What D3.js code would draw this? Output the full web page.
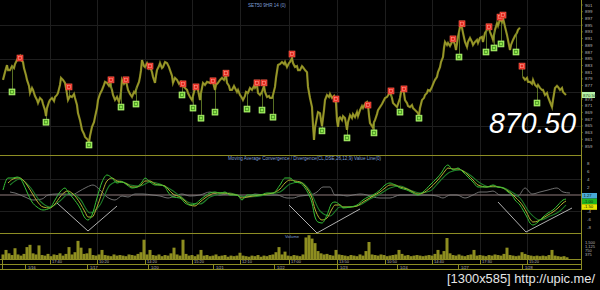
<!DOCTYPE html>
<html>
<head>
<meta charset="utf-8">
<script src="https://cdn.jsdelivr.net/npm/d3@7"></script>
<style>
body { margin: 0; background: #000; }
text { font-family: "Liberation Sans", Arial, sans-serif; }
</style>
</head>
<body>
<script>

// ---- data (bar index, value) ----
var priceSeries = [
[3,878.7],[5,881.0],[7,883.1],[8,881.6],[10,881.6],[12,882.8],[14,882.2],[15,883.4],[17,884.6],[18,885.2],[20,885.8],[21,884.6],[23,884.0],[24,882.2],[26,880.1],[27,878.7],[29,876.9],[30,874.8],[32,876.3],[33,875.7],[35,873.9],[37,872.7],[38,871.8],[40,873.3],[42,872.7],[43,871.5],[45,869.7],[46,867.9],[47,870.3],[49,872.1],[50,872.7],[52,873.3],[54,872.4],[55,873.6],[57,874.2],[58,874.8],[60,877.2],[61,879.3],[63,878.7],[65,877.8],[66,876.3],[68,872.7],[70,873.9],[72,873.6],[74,874.5],[75,873.3],[77,871.2],[78,868.8],[80,866.7],[82,863.8],[84,862.6],[85,861.7],[87,861.1],[88,860.8],[89,859.9],[90,862.0],[92,864.7],[94,866.1],[95,867.6],[97,870.3],[98,872.7],[100,874.5],[102,875.7],[104,877.2],[105,878.1],[107,877.8],[109,876.9],[110,877.5],[112,875.7],[113,874.2],[115,872.7],[117,873.6],[119,872.1],[120,873.3],[121,875.1],[122,878.7],[124,877.5],[126,878.4],[128,875.7],[130,874.5],[132,873.6],[134,875.1],[135,874.8],[137,876.6],[139,878.1],[140,879.6],[141,881.6],[142,884.6],[144,882.8],[145,882.5],[147,883.7],[149,882.2],[150,882.8],[152,881.0],[153,879.6],[155,877.8],[156,879.9],[157,881.6],[159,882.8],[160,883.7],[162,882.2],[163,882.5],[165,884.0],[167,883.7],[169,882.5],[170,881.6],[172,879.9],[173,877.8],[175,879.3],[177,878.7],[179,877.5],[181,878.1],[183,876.9],[185,876.3],[187,875.7],[188,874.8],[190,873.6],[192,872.7],[193,873.9],[195,876.3],[197,876.9],[198,875.7],[200,872.7],[201,874.8],[203,877.8],[205,877.2],[207,878.1],[210,877.8],[212,878.7],[213,878.1],[215,875.7],[216,877.2],[218,877.8],[220,878.7],[222,879.3],[224,878.7],[226,880.1],[227,877.8],[229,876.9],[230,875.7],[232,875.7],[234,876.9],[235,876.3],[237,875.1],[238,875.7],[240,874.2],[242,873.3],[243,872.7],[245,873.9],[246,875.1],[248,874.8],[250,876.3],[252,875.7],[254,876.9],[255,876.3],[257,877.2],[258,874.8],[260,874.2],[262,875.1],[264,876.9],[265,875.1],[267,873.6],[269,873.9],[270,873.3],[272,873.3],[273,874.2],[275,876.6],[276,879.3],[278,883.1],[280,883.4],[282,884.0],[284,883.4],[285,884.0],[287,882.5],[289,883.7],[290,884.0],[292,885.2],[293,883.7],[295,882.5],[297,882.8],[298,881.6],[300,881.6],[302,882.8],[303,882.5],[305,881.6],[307,881.0],[308,876.6],[310,873.3],[312,870.6],[313,865.2],[314,860.8],[315,864.4],[317,867.6],[318,869.1],[320,868.8],[321,866.7],[322,864.9],[324,869.7],[325,872.7],[327,874.2],[329,873.6],[330,874.5],[332,873.3],[334,873.9],[335,872.7],[336,871.8],[337,866.7],[338,864.7],[339,867.3],[340,867.6],[342,866.7],[343,867.9],[345,867.3],[346,865.5],[347,863.8],[348,866.1],[350,868.2],[352,867.3],[353,868.5],[355,867.6],[357,869.1],[358,867.9],[360,869.7],[362,870.9],[363,870.3],[365,871.5],[367,872.1],[368,871.2],[369,868.2],[370,865.8],[372,864.9],[373,864.4],[374,866.1],[375,866.7],[377,868.5],[378,869.7],[380,870.6],[382,871.5],[383,872.1],[385,873.3],[387,873.6],[389,874.5],[390,875.1],[392,873.3],[393,871.8],[395,871.2],[397,870.6],[398,871.5],[400,873.3],[401,875.1],[403,875.7],[404,874.8],[405,872.7],[407,871.8],[408,870.9],[410,870.6],[412,871.2],[413,870.3],[415,869.7],[417,869.1],[418,868.8],[419,867.9],[420,870.3],[422,872.7],[424,873.3],[425,874.2],[427,874.8],[428,875.7],[430,875.4],[432,876.6],[434,878.1],[435,878.7],[437,879.6],[438,881.0],[440,882.5],[441,884.0],[443,885.5],[444,888.2],[445,890.0],[447,889.1],[448,889.7],[450,888.8],[452,890.0],[453,890.6],[455,889.1],[456,887.6],[458,891.5],[459,893.0],[460,894.5],[462,894.2],[463,892.7],[465,890.0],[467,888.5],[468,890.0],[470,891.2],[472,890.0],[473,889.1],[475,890.0],[477,890.6],[478,889.7],[480,891.2],[482,891.5],[483,890.0],[485,892.7],[487,893.6],[489,894.2],[490,893.0],[492,891.5],[493,890.6],[495,893.6],[497,895.6],[498,894.8],[500,896.8],[502,895.9],[503,897.1],[505,894.5],[507,892.1],[508,890.6],[510,887.6],[511,889.1],[513,890.6],[515,891.8],[517,892.7],[518,893.6],[520,894.2],[521,null],
[523,879.6],[525,878.7],[527,879.3],[528,878.1],[530,878.1],[532,877.5],[533,878.7],[535,877.2],[537,876.6],[538,877.2],[540,876.3],[542,875.7],[543,875.7],[545,874.2],[547,874.8],[548,873.6],[550,872.1],[552,870.6],[553,872.7],[555,876.3],[557,876.9],[558,876.6],[560,875.7],[562,876.3],[563,875.1],[565,874.5],[566,874.2]
];

var sellMarks = [[20,885.2],[69,876.6],[111,878.7],[126,878.7],[150,882.8],[183,877.5],[196,876.6],[213,878.4],[226,880.7],[257,877.8],[264,877.8],[292,886.4],[336,873.0],[368,871.2],[391,875.4],[404,876.0],[453,890.9],[462,895.4],[489,894.5],[500,897.4],[503,898.0],[522,882.8]];
var buyMarks = [[12,875.1],[46,866.1],[89,859.3],[121,870.6],[136,871.5],[182,874.2],[193,870.3],[201,867.3],[215,869.1],[247,870.0],[262,869.7],[273,867.6],[322,863.5],[347,861.4],[374,862.9],[400,869.1],[419,867.3],[459,885.5],[486,887.0],[494,888.2],[501,889.4],[516,887.0],[537,871.8]];

var priceTicks = d3.range(901, 858, -2);
var lastPriceLabel = "870.50";

var macdLine = [[3,1.25],[8,4.25],[13,4.25],[17,4.5],[20,4.25],[23,3.0],[27,0.75],[32,-1.75],[37,-3.0],[43,-3.75],[50,-3.25],[55,-1.25],[60,0.75],[65,1.75],[68,0.75],[73,-0.75],[80,-3.25],[85,-5.75],[88,-6.25],[92,-5.0],[97,-0.75],[102,3.25],[107,5.0],[112,4.25],[117,3.0],[122,3.25],[127,2.5],[132,1.75],[137,2.0],[142,3.25],[145,4.25],[150,3.25],[155,2.5],[160,2.5],[165,2.0],[168,0.75],[173,-0.5],[180,-0.75],[185,-2.0],[190,-2.5],[195,-2.25],[200,-1.25],[205,-0.25],[210,0.5],[215,0.75],[220,0.5],[225,0.75],[230,0],[237,0],[242,-1.25],[247,0],[253,0],[260,0],[267,0.5],[273,0.5],[280,2.5],[285,4.25],[290,4.25],[295,3.25],[300,3.0],[305,1.75],[308,0.5],[312,-2.0],[315,-5.5],[318,-6.75],[322,-7.0],[327,-5.0],[332,-2.0],[335,-1.75],[340,-2.5],[343,-3.25],[350,-3.0],[357,-2.5],[363,-1.25],[368,-0.5],[373,0],[380,1.25],[385,2.5],[390,3.0],[395,2.5],[400,1.75],[407,1.25],[413,0.5],[418,0],[423,0.75],[430,2.5],[437,4.25],[442,5.75],[445,7.0],[448,7.5],[453,6.25],[458,6.75],[463,5.75],[468,4.5],[473,3.25],[478,2.0],[487,2.0],[493,2.5],[498,2.0],[503,1.75],[508,0.75],[512,0],[515,-1.25],[520,-2.5],[523,-3.75],[527,-5.5],[530,-7.0],[533,-7.5],[538,-6.75],[543,-5.5],[548,-4.5],[553,-3.75],[558,-2.5],[563,-1.25],[566,-1.0]];

var signalLine = [[8,3.0],[13,4.0],[17,4.25],[20,4.25],[23,3.75],[27,2.5],[32,0.5],[37,-1.5],[43,-3.0],[50,-3.25],[55,-2.25],[60,-0.5],[65,0.75],[68,1.0],[73,0.25],[80,-2.0],[85,-4.25],[88,-5.5],[92,-5.5],[97,-3.0],[102,0.5],[107,3.5],[112,4.25],[117,3.5],[122,3.25],[127,2.75],[132,2.0],[137,2.0],[142,2.75],[145,3.5],[150,3.5],[155,2.75],[160,2.5],[165,2.25],[168,1.5],[173,0.25],[180,-0.5],[185,-1.5],[190,-2.5],[195,-2.75],[200,-1.75],[205,-0.75],[210,0],[215,0.5],[220,0.5],[225,0.5],[230,0.25],[237,0],[242,-0.75],[247,-0.5],[253,-0.25],[260,0],[267,0.25],[273,0.5],[280,1.5],[285,3.0],[290,3.75],[295,3.5],[300,3.25],[305,2.25],[308,1.25],[312,-0.75],[315,-3.5],[318,-5.25],[322,-6.25],[327,-5.75],[332,-3.5],[335,-2.5],[340,-2.5],[343,-3.0],[350,-3.0],[357,-2.75],[363,-1.75],[368,-1.0],[373,-0.25],[380,0.75],[385,1.75],[390,2.5],[395,2.5],[400,2.0],[407,1.5],[413,0.75],[418,0.25],[423,0.5],[430,1.75],[437,3.5],[442,5.0],[445,6.0],[448,6.75],[453,6.5],[458,6.5],[463,6.0],[468,5.0],[473,3.75],[478,2.5],[487,2.0],[493,2.25],[498,2.0],[503,1.75],[508,1.0],[512,0.25],[515,-0.5],[520,-1.75],[523,-2.75],[527,-4.5],[530,-6.0],[533,-6.75],[538,-6.5],[543,-5.75],[548,-5.0],[553,-4.25],[558,-3.25],[563,-2.0],[566,-1.5]];

var avgLine = [[10,2.5],[20,4.0],[30,2.0],[40,-1.5],[50,-3.0],[60,-1.5],[70,0.5],[80,-1.0],[90,-4.5],[100,-2.5],[110,2.5],[120,3.5],[130,2.5],[140,2.25],[150,3.25],[160,2.75],[170,1.5],[180,-0.25],[190,-2.0],[200,-2.25],[210,-0.5],[220,0.25],[230,0.5],[240,-0.25],[250,-0.5],[260,-0.25],[270,0.25],[280,0.75],[290,2.75],[300,3.25],[310,1.0],[320,-4.0],[330,-5.25],[340,-3.0],[350,-3.0],[360,-2.5],[370,-1.0],[380,0.25],[390,1.75],[400,2.25],[410,1.25],[420,0.5],[430,1.0],[440,3.5],[450,5.75],[460,6.25],[470,5.0],[480,3.0],[490,2.0],[500,2.0],[510,1.0],[520,-0.75],[530,-4.5],[540,-6.25],[550,-5.25],[560,-4.0],[566,-2.5]];

var diffLine = [[10,0.75],[15,0.5],[25,-0.5],[33,-1.25],[42,-1.0],[48,0],[57,0.25],[65,0.25],[72,0],[78,0.75],[87,2.0],[93,2.5],[100,1.25],[107,-0.5],[115,-1.25],[122,-0.25],[128,-0.5],[135,0.25],[143,0.25],[152,0],[160,-0.25],[168,-0.75],[175,-0.25],[182,0.25],[190,-0.25],[200,0],[210,0.75],[220,0],[227,0.25],[237,0],[247,-0.5],[255,0.25],[265,0],[277,0],[287,-0.75],[293,-0.75],[300,-0.25],[310,0],[317,0.75],[323,2.0],[330,2.0],[335,0],[340,0],[347,-0.25],[353,0],[360,0.25],[367,0],[373,-0.5],[380,-0.75],[390,-0.75],[400,0],[410,0],[420,0],[427,0],[437,-0.25],[443,-0.75],[450,0],[457,0],[465,-0.75],[473,0],[480,0.75],[487,0.75],[493,1.0],[500,0],[510,0],[518,-0.25],[525,1.75],[532,0.25],[540,0.75],[548,1.25],[557,1.75],[563,0.75],[570,0.5]];

var trendLines = [
	[[57,-2.0],[88,-9.0],[117,-2.75]],
	[[289,-2.5],[317,-9.5],[360,-3.5]],
	[[498,-1.75],[526,-9.25],[572,-3.25]]
];

var macdTicks = [8, 6, 4, 2, -4, -6, -8];
var macdBoxes = [["1.27", "#49a9d6"], ["-1.00", "#1fb51f"], ["-1.50", "#e6e600"]];

var volValues = [
400,800,500,350,950,400,300,450,1050,1250,500,400,1200,350,300,450,250,400,350,500,
300,450,1050,400,600,1600,1000,450,500,950,350,300,400,800,350,300,250,400,300,350,
300,250,400,350,300,450,600,1700,400,800,350,300,400,250,350,300,500,1000,400,300,
1700,450,300,350,250,400,800,300,350,250,300,400,250,300,350,200,300,250,300,550,
300,250,200,300,250,350,200,300,250,350,400,600,1050,400,650,300,250,350,300,250,
400,1900,2100,1800,1400,700,500,400,450,350,300,800,400,350,300,250,350,300,250,400,
300,700,1500,400,350,300,400,350,250,300,350,400,800,450,300,350,250,300,350,300,
250,300,350,300,450,800,400,700,1850,500,350,300,400,300,250,350,400,800,300,350,
300,250,350,300,400,350,300,450,1000,350,300,250,300,600,450,350,300,250,300,250,
300,250,350,800,300,250,200,250,150
];
var volBars = d3.range(3, 568, 3);
var volTicks = [[1500, "1,500"], [1125, "1,125"], [750, "750"], [375, "375"]];

var gridBars = [50, 97, 145, 192, 240, 289, 337, 385, 432, 480, 527];
var timeLabels = ["17:40", "10:20", "14:20", "15:20", "12:10", "17:00", "13:50", "10:50", "14:40", "17:30", "15:20"];
var dateBars = [25, 87, 148, 213, 274, 337, 397, 458, 522];
var dateLabels = ["1/16", "1/17", "1/20", "1/21", "1/22", "1/23", "1/24", "1/27", "1/28"];

// ---- layout ----
let width = 600, height = 290;
var axisX = 581;

var svg = d3.select("body").append("svg")
	.attr("width", width)
	.attr("height", height)
	.style("background", "#000");

var x = d3.scaleLinear().domain([0, 600]).range([0, 600]);
var yPrice = d3.scaleLinear().domain([859, 901]).range([146, 5]);
var yMacd = d3.scaleLinear().domain([-8, 8]).range([227, 163]);
var yVol = d3.scaleLinear().domain([0, 1500]).range([259, 242]);

var olive = "#8d8d24";

// grid
svg.append("g").selectAll("line").data(gridBars).enter().append("line")
	.attr("x1", d => x(d) + 0.5).attr("x2", d => x(d) + 0.5)
	.attr("y1", 0).attr("y2", 259)
	.attr("stroke", "#1e1e1e");
svg.append("g").selectAll("line").data([895, 885, 875, 865]).enter().append("line")
	.attr("x1", 0).attr("x2", axisX)
	.attr("y1", d => Math.round(yPrice(d)) + 0.5).attr("y2", d => Math.round(yPrice(d)) + 0.5)
	.attr("stroke", "#1e1e1e");
svg.append("g").selectAll("line").data([4, -4]).enter().append("line")
	.attr("x1", 0).attr("x2", axisX)
	.attr("y1", d => yMacd(d) + 0.5).attr("y2", d => yMacd(d) + 0.5)
	.attr("stroke", "#1e1e1e");

// panel separators + right axis
svg.append("g").selectAll("line").data([155.5, 233.5, 259.5, 264.5, 269.5]).enter().append("line")
	.attr("x1", 0).attr("x2", axisX)
	.attr("y1", d => d).attr("y2", d => d)
	.attr("stroke", olive);
svg.append("line")
	.attr("x1", axisX + 0.5).attr("x2", axisX + 0.5)
	.attr("y1", 0).attr("y2", 270)
	.attr("stroke", olive);
svg.append("line")
	.attr("x1", 2.5).attr("x2", 2.5).attr("y1", 259).attr("y2", 270)
	.attr("stroke", olive);

// titles
svg.append("text").attr("x", 248).attr("y", 7).attr("font-size", 4.6)
	.attr("fill", "#7f9fd6").text("SET50 9HR 14  (0)");
svg.append("text").attr("x", 228).attr("y", 159.5).attr("font-size", 4.6)
	.attr("fill", "#7f9fd6").text("Moving Average Convergence / Divergence(CL,DSE,26,12,9) Value Line(0)");
svg.append("text").attr("x", 285).attr("y", 237.5).attr("font-size", 4.2)
	.attr("fill", "#7f9fd6").text("Volume");

// ---- price panel ----
var priceLine = d3.line()
	.defined(d => d[1] != null)
	.x(d => x(d[0]))
	.y(d => yPrice(d[1]));

svg.append("path")
	.datum(priceSeries)
	.attr("d", priceLine)
	.attr("fill", "none")
	.attr("stroke", "#83831f")
	.attr("stroke-width", 2.2)
	.attr("stroke-linejoin", "miter");
svg.append("path")
	.datum(priceSeries)
	.attr("d", priceLine)
	.attr("fill", "none")
	.attr("stroke", "#a6a634")
	.attr("stroke-width", 0.7);

// price at a bar, for marker stems
var validPrices = priceSeries.filter(d => d[1] != null);
var bis = d3.bisector(d => d[0]).left;
function priceAt(bar) {
	var i = Math.min(bis(validPrices, bar), validPrices.length - 1);
	return validPrices[i][1];
}

var stems = svg.append("g");
stems.selectAll("line").data(buyMarks.concat(sellMarks)).enter().append("line")
	.attr("x1", d => x(d[0]) + 0.5).attr("x2", d => x(d[0]) + 0.5)
	.attr("y1", d => yPrice(d[1])).attr("y2", d => yPrice(priceAt(d[0])))
	.attr("stroke", "#6d8a2c").attr("stroke-width", 0.8);

var buyG = svg.append("g").selectAll("g").data(buyMarks).enter().append("g")
	.attr("transform", d => "translate(" + x(d[0]) + "," + yPrice(d[1]) + ")");
buyG.append("rect").attr("x", -3).attr("y", -3).attr("width", 6).attr("height", 6)
	.attr("fill", "#8ee24e").attr("stroke", "#b8f47c").attr("stroke-width", 0.6);
buyG.append("rect").attr("x", -1.4).attr("y", -1.6).attr("width", 2.8).attr("height", 3.2)
	.attr("fill", "none").attr("stroke", "#3f8a1c").attr("stroke-width", 0.7);

var sellG = svg.append("g").selectAll("g").data(sellMarks).enter().append("g")
	.attr("transform", d => "translate(" + x(d[0]) + "," + yPrice(d[1]) + ")");
sellG.append("rect").attr("x", -3).attr("y", -3).attr("width", 6).attr("height", 6)
	.attr("fill", "#e2281f").attr("stroke", "#ff6450").attr("stroke-width", 0.6);
sellG.append("rect").attr("x", -1.4).attr("y", -1.6).attr("width", 2.8).attr("height", 3.2)
	.attr("fill", "none").attr("stroke", "#ff9a8a").attr("stroke-width", 0.6);

// right price axis (the label under the last-price box is hidden by it)
var lastP = validPrices[validPrices.length - 1][1];
var shownTicks = priceTicks.filter(d => Math.abs(yPrice(d) - yPrice(lastP)) > 4);
var pAxis = svg.append("g");
pAxis.selectAll("text").data(shownTicks).enter().append("text")
	.attr("x", axisX + 4).attr("y", d => yPrice(d) + 1.5)
	.attr("font-size", 4.4).attr("fill", "#b8b8b8")
	.text(d => d);
pAxis.selectAll("line").data(priceTicks).enter().append("line")
	.attr("x1", axisX).attr("x2", axisX + 2)
	.attr("y1", d => yPrice(d)).attr("y2", d => yPrice(d))
	.attr("stroke", olive).attr("stroke-width", 0.6);

svg.append("rect").attr("x", axisX + 1).attr("y", yPrice(lastP) - 3).attr("width", 13).attr("height", 6)
	.attr("fill", "#b6f2a8");
svg.append("text").attr("x", axisX + 2).attr("y", yPrice(lastP) + 1.6)
	.attr("font-size", 4.4).attr("fill", "#1a3a1a").text(lastPriceLabel);

// big last price
svg.append("text")
	.attr("x", 489).attr("y", 133)
	.attr("font-size", 30).attr("font-style", "italic")
	.attr("textLength", 87).attr("lengthAdjust", "spacingAndGlyphs")
	.attr("fill", "#ffffff")
	.text(lastPriceLabel);

// ---- MACD panel ----
svg.append("line")
	.attr("x1", 0).attr("x2", axisX)
	.attr("y1", yMacd(0)).attr("y2", yMacd(0))
	.attr("stroke", "#a08a8a").attr("stroke-width", 0.9);

var mLine = d3.line().x(d => x(d[0])).y(d => yMacd(d[1])).curve(d3.curveMonotoneX);

svg.append("path").datum(diffLine).attr("d", mLine)
	.attr("fill", "none").attr("stroke", "#7a7a7a").attr("stroke-width", 0.9);
svg.append("path").datum(avgLine).attr("d", mLine)
	.attr("fill", "none").attr("stroke", "#1f7f2a").attr("stroke-width", 1.1);
svg.append("path").datum(signalLine).attr("d", mLine)
	.attr("fill", "none").attr("stroke", "#b4b032").attr("stroke-width", 1);
svg.append("path").datum(macdLine).attr("d", mLine)
	.attr("fill", "none").attr("stroke", "#36c236").attr("stroke-width", 1);

var tLine = d3.line().x(d => x(d[0])).y(d => yMacd(d[1]));
svg.append("g").selectAll("path").data(trendLines).enter().append("path")
	.attr("d", tLine)
	.attr("fill", "none").attr("stroke", "#c4c4c4").attr("stroke-width", 0.9);

svg.append("g").selectAll("text").data(macdTicks).enter().append("text")
	.attr("x", axisX + 6).attr("y", d => yMacd(d) + 1.5)
	.attr("font-size", 4.4).attr("fill", "#b8b8b8")
	.text(d => d);

var boxG = svg.append("g").selectAll("g").data(macdBoxes).enter().append("g")
	.attr("transform", (d, i) => "translate(" + (axisX + 1) + "," + (yMacd(0.5) + i * 5.6) + ")");
boxG.append("rect").attr("width", 15).attr("height", 5.6).attr("fill", d => d[1]);
boxG.append("text").attr("x", 1.5).attr("y", 4.2).attr("font-size", 4.2)
	.attr("fill", "#102010").text(d => d[0]);

// ---- volume panel ----
svg.append("g").selectAll("rect").data(volValues).enter().append("rect")
	.attr("x", (d, i) => x(volBars[i]) - 1.5)
	.attr("y", d => yVol(d))
	.attr("width", 3)
	.attr("height", d => yVol(0) - yVol(d))
	.attr("fill", "#8e8e20");

svg.append("g").selectAll("text").data(volTicks).enter().append("text")
	.attr("x", axisX + 4).attr("y", d => yVol(d[0]) + 1.5)
	.attr("font-size", 4).attr("fill", "#b8b8b8")
	.text(d => d[1]);

// ---- time axis ----
var tAxis = svg.append("g");
tAxis.selectAll("line.t").data(gridBars).enter().append("line")
	.attr("x1", d => x(d) + 0.5).attr("x2", d => x(d) + 0.5)
	.attr("y1", 259).attr("y2", 264)
	.attr("stroke", olive);
tAxis.selectAll("text.t").data(gridBars).enter().append("text")
	.attr("x", d => x(d) + 2).attr("y", 263.3)
	.attr("font-size", 4).attr("fill", "#b8b8b8")
	.text((d, i) => timeLabels[i]);
tAxis.selectAll("line.d").data(dateBars).enter().append("line")
	.attr("x1", d => x(d) + 0.5).attr("x2", d => x(d) + 0.5)
	.attr("y1", 264).attr("y2", 269.5)
	.attr("stroke", olive);
tAxis.selectAll("text.d").data(dateBars).enter().append("text")
	.attr("x", d => x(d) + 3).attr("y", 268.5)
	.attr("font-size", 4).attr("fill", "#b8b8b8")
	.text((d, i) => dateLabels[i]);

// watermark
svg.append("text")
	.attr("x", 447).attr("y", 283)
	.attr("font-family", "DejaVu Sans Mono, monospace")
	.attr("font-size", 12)
	.attr("textLength", 148).attr("lengthAdjust", "spacingAndGlyphs")
	.attr("fill", "#e6e6e6")
	.text("[1300x585] http://upic.me/");

</script>
</body>
</html>
